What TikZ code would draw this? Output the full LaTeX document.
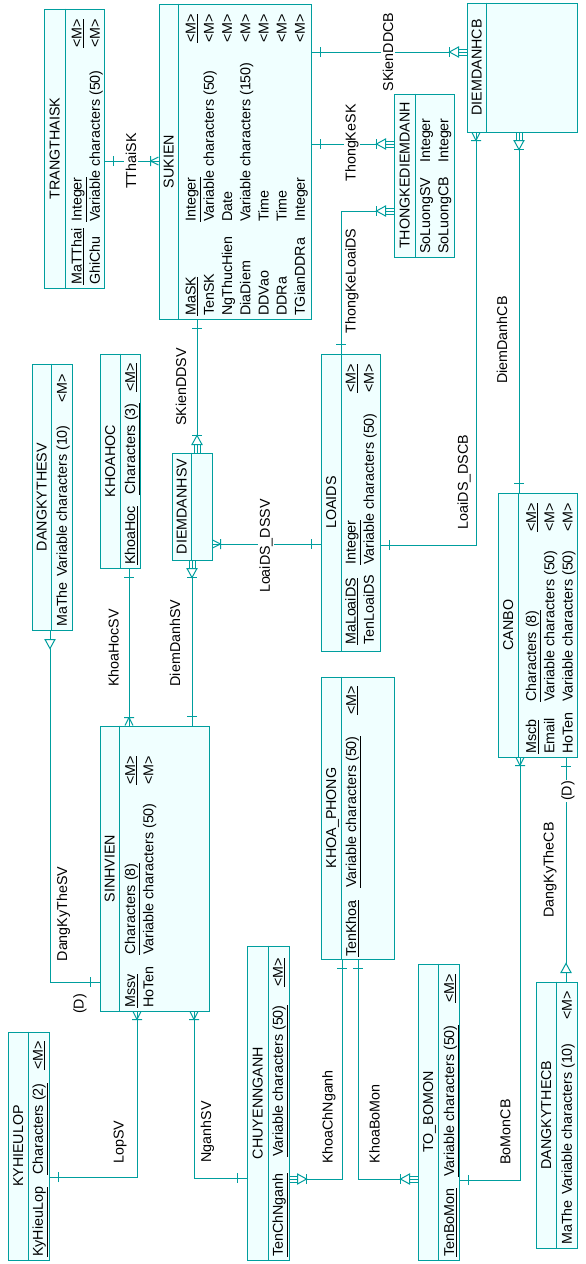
\documentclass[tikz,border=0pt]{standalone}
\usepackage{fontspec}
\setmainfont{Liberation Sans}
\usepackage{tikz}
\usetikzlibrary{calc}

\definecolor{pdline}{RGB}{0,158,158}
\definecolor{pdfill}{RGB}{240,255,255}

\tikzset{
  entity/.style={draw=pdline,fill=pdfill,line width=1pt,inner sep=0pt},
  divline/.style={draw=pdline,line width=1pt},
  link/.style={draw=pdline,line width=1pt},
  title/.style={rotate=90,inner sep=0pt,text height=10.2pt,text depth=0pt},
  attr/.style={rotate=90,anchor=north west,inner sep=0pt},
  lbl/.style={rotate=90,fill=white,inner sep=1.5pt},
  barmark/.pic={\draw[link] (-9,-5) -- (-9,5);},
  crowmark/.pic={\draw[link] (-8,0) -- (0,-4) (-8,0) -- (0,4) (-8,-5) -- (-8,5);},
  depmark/.pic={\draw[link] (0,-3) -- (-8,-3) (0,0) -- (-8,0) (0,3) -- (-8,3);
    \draw[link,fill=white] (-8,-5) -- (-8,5) -- (-17,0) -- cycle;
    \draw[link] (-17,-5) -- (-17,5);},
  trimark/.pic={\draw[link,fill=white] (-9,-5) -- (-9,5) -- (-18,0) -- cycle;}
}

\begin{document}
\begin{tikzpicture}[x=1pt,y=-1pt,font=\fontsize{14.3}{18.2}\selectfont]
  \useasboundingbox (0,0) rectangle (586,1264);

  % TRANGTHAISK
  \node[entity,minimum width=60pt,minimum height=279pt] (trangthaisk) at (74,148.5) {};
  \draw[divline] ([xshift=22pt]trangthaisk.north west) -- ([xshift=22pt]trangthaisk.south west);
  \node[title] (trangthaisk-t) at ([xshift=11pt]trangthaisk.west) {TRANGTHAISK};
  \node[attr] (trangthaisk-a) at (68.8,285) {\begin{tabular}{@{}p{63pt}@{}p{174pt}@{}l@{}}
    \underline{MaTThai} & \underline{Integer} & \underline{<M>}\\
    GhiChu & Variable characters (50) & <M>
  \end{tabular}};

  % SUKIEN
  \node[entity,minimum width=152pt,minimum height=315pt] (sukien) at (235,161.5) {};
  \draw[divline] ([xshift=20pt]sukien.north west) -- ([xshift=20pt]sukien.south west);
  \node[title] (sukien-t) at ([xshift=10pt]sukien.west) {SUKIEN};
  \node[attr] (sukien-a) at (182.8,316) {\begin{tabular}{@{}p{94pt}@{}p{179pt}@{}l@{}}
    \underline{MaSK} & \underline{Integer} & \underline{<M>}\\
    TenSK & Variable characters (50) & <M>\\
    NgThucHien & Date & <M>\\
    DiaDiem & Variable characters (150) & <M>\\
    DDVao & Time & <M>\\
    DDRa & Time & <M>\\
    TGianDDRa & Integer & <M>
  \end{tabular}};

  % THONGKEDIEMDANH
  \node[entity,minimum width=60pt,minimum height=163pt] (thongke) at (424,175.5) {};
  \draw[divline] ([xshift=22pt]thongke.north west) -- ([xshift=22pt]thongke.south west);
  \node[title] (thongke-t) at ([xshift=11pt]thongke.west) {THONGKEDIEMDANH};
  \node[attr] (thongke-a) at (417.3,254) {\begin{tabular}{@{}p{91pt}@{}l@{}}
    SoLuongSV & Integer\\
    SoLuongCB & Integer
  \end{tabular}};

  % DIEMDANHCB
  \node[entity,minimum width=110pt,minimum height=129pt] (ddcb) at (522,67.5) {};
  \draw[divline] ([xshift=20pt]ddcb.north west) -- ([xshift=20pt]ddcb.south west);
  \node[title] (ddcb-t) at ([xshift=10pt]ddcb.west) {DIEMDANHCB};

  % DANGKYTHESV
  \node[entity,minimum width=40pt,minimum height=266pt] (dkthesv) at (52,497) {};
  \draw[divline] ([xshift=20pt]dkthesv.north west) -- ([xshift=20pt]dkthesv.south west);
  \node[title] (dkthesv-t) at ([xshift=10pt]dkthesv.west) {DANGKYTHESV};
  \node[attr] (dkthesv-a) at (54,627) {\begin{tabular}{@{}p{50pt}@{}p{174pt}@{}l@{}}
    MaThe & Variable characters (10) & <M>
  \end{tabular}};

  % KHOAHOC
  \node[entity,minimum width=40pt,minimum height=214pt] (khoahoc) at (120,461) {};
  \draw[divline] ([xshift=21pt]khoahoc.north west) -- ([xshift=21pt]khoahoc.south west);
  \node[title] (khoahoc-t) at ([xshift=10.5pt]khoahoc.west) {KHOAHOC};
  \node[attr] (khoahoc-a) at (122.3,565) {\begin{tabular}{@{}p{70pt}@{}p{103pt}@{}l@{}}
    \underline{KhoaHoc} & \underline{Characters (3)} & \underline{<M>}
  \end{tabular}};

  % DIEMDANHSV
  \node[entity,minimum width=40pt,minimum height=107pt] (ddsv) at (192,506.5) {};
  \draw[divline] ([xshift=20pt]ddsv.north west) -- ([xshift=20pt]ddsv.south west);
  \node[title] (ddsv-t) at ([xshift=10pt]ddsv.west) {DIEMDANHSV};

  % LOAIDS
  \node[entity,minimum width=59pt,minimum height=297pt] (loaids) at (350.5,502.5) {};
  \draw[divline] ([xshift=21pt]loaids.north west) -- ([xshift=21pt]loaids.south west);
  \node[title] (loaids-t) at ([xshift=10.5pt]loaids.west) {LOAIDS};
  \node[attr] (loaids-a) at (342.8,645) {\begin{tabular}{@{}p{80pt}@{}p{172pt}@{}l@{}}
    \underline{MaLoaiDS} & \underline{Integer} & \underline{<M>}\\
    TenLoaiDS & Variable characters (50) & <M>
  \end{tabular}};

  % SINHVIEN
  \node[entity,minimum width=109pt,minimum height=285pt] (sinhvien) at (154.5,868.5) {};
  \draw[divline] ([xshift=20pt]sinhvien.north west) -- ([xshift=20pt]sinhvien.south west);
  \node[title] (sinhvien-t) at ([xshift=10pt]sinhvien.west) {SINHVIEN};
  \node[attr] (sinhvien-a) at (122.3,1008) {\begin{tabular}{@{}p{53pt}@{}p{170pt}@{}l@{}}
    \underline{Mssv} & \underline{Characters (8)} & \underline{<M>}\\
    HoTen & Variable characters (50) & <M>
  \end{tabular}};

  % KYHIEULOP
  \node[entity,minimum width=41pt,minimum height=228pt] (kyhieulop) at (28.5,1146) {};
  \draw[divline] ([xshift=21pt]kyhieulop.north west) -- ([xshift=21pt]kyhieulop.south west);
  \node[title] (kyhieulop-t) at ([xshift=10.5pt]kyhieulop.west) {KYHIEULOP};
  \node[attr] (kyhieulop-a) at (30,1257) {\begin{tabular}{@{}p{82pt}@{}p{105pt}@{}l@{}}
    \underline{KyHieuLop} & \underline{Characters (2)} & \underline{<M>}
  \end{tabular}};

  % CHUYENNGANH
  \node[entity,minimum width=42pt,minimum height=314pt] (chuyennganh) at (268,1103) {};
  \draw[divline] ([xshift=22pt]chuyennganh.north west) -- ([xshift=22pt]chuyennganh.south west);
  \node[title] (chuyennganh-t) at ([xshift=11pt]chuyennganh.west) {CHUYENNGANH};
  \node[attr] (chuyennganh-a) at (270,1257) {\begin{tabular}{@{}p{100pt}@{}p{170pt}@{}l@{}}
    \underline{TenChNganh} & \underline{Variable characters (50)} & \underline{<M>}
  \end{tabular}};

  % KHOA_PHONG
  \node[entity,minimum width=73pt,minimum height=282pt] (khoaphong) at (357.5,818) {};
  \draw[divline] ([xshift=21pt]khoaphong.north west) -- ([xshift=21pt]khoaphong.south west);
  \node[title] (khoaphong-t) at ([xshift=10.5pt]khoaphong.west) {KHOA\_PHONG};
  \node[attr] (khoaphong-a) at (343.3,957) {\begin{tabular}{@{}p{69pt}@{}p{173pt}@{}l@{}}
    \underline{TenKhoa} & \underline{Variable characters (50)} & \underline{<M>}
  \end{tabular}};

  % TO_BOMON
  \node[entity,minimum width=41pt,minimum height=296pt] (tobomon) at (438.5,1112) {};
  \draw[divline] ([xshift=21pt]tobomon.north west) -- ([xshift=21pt]tobomon.south west);
  \node[title] (tobomon-t) at ([xshift=10.5pt]tobomon.west) {TO\_BOMON};
  \node[attr] (tobomon-a) at (441.3,1257) {\begin{tabular}{@{}p{80pt}@{}p{174pt}@{}l@{}}
    \underline{TenBoMon} & \underline{Variable characters (50)} & \underline{<M>}
  \end{tabular}};

  % CANBO
  \node[entity,minimum width=79pt,minimum height=264pt] (canbo) at (537.5,625) {};
  \draw[divline] ([xshift=21pt]canbo.north west) -- ([xshift=21pt]canbo.south west);
  \node[title] (canbo-t) at ([xshift=10.5pt]canbo.west) {CANBO};
  \node[attr] (canbo-a) at (523.3,754) {\begin{tabular}{@{}p{52pt}@{}p{170pt}@{}l@{}}
    \underline{Mscb} & \underline{Characters (8)} & \underline{<M>}\\
    Email & Variable characters (50) & <M>\\
    HoTen & Variable characters (50) & <M>
  \end{tabular}};

  % DANGKYTHECB
  \node[entity,minimum width=41pt,minimum height=266pt] (dkthecb) at (556.5,1115) {};
  \draw[divline] ([xshift=21pt]dkthecb.north west) -- ([xshift=21pt]dkthecb.south west);
  \node[title] (dkthecb-t) at ([xshift=10.5pt]dkthecb.west) {DANGKYTHECB};
  \node[attr] (dkthecb-a) at (559,1245) {\begin{tabular}{@{}p{50pt}@{}p{175pt}@{}l@{}}
    MaThe & Variable characters (10) & <M>
  \end{tabular}};

  % links
  \draw[link] (trangthaisk.east |- 0,161) -- (sukien.west |- 0,161);
  \draw[link] (sukien.east |- 0,52) -- (ddcb.west |- 0,52);
  \draw[link] (sukien.east |- 0,144) -- (thongke.west |- 0,144);
  \draw[link] (341,0 |- loaids.north) |- (thongke.west |- 0,211);
  \draw[link] (197,0 |- sukien.south) -- (197,0 |- ddsv.north);
  \draw[link] (loaids.west |- 0,544) -- (ddsv.east |- 0,544);
  \draw[link] (loaids.east |- 0,545) -| (476,0 |- ddcb.south);
  \draw[link] (519,0 |- canbo.north) -- (519,0 |- ddcb.south);
  \draw[link] (129,0 |- khoahoc.south) -- (129,0 |- sinhvien.north);
  \draw[link] (192,0 |- ddsv.south) -- (192,0 |- sinhvien.north);
  \draw[link] (50,0 |- dkthesv.south) |- (sinhvien.west |- 0,982);
  \draw[link] (kyhieulop.east |- 0,1177) -| (137,0 |- sinhvien.south);
  \draw[link] (chuyennganh.west |- 0,1178) -| (194,0 |- sinhvien.south);
  \draw[link] (342,0 |- khoaphong.south) |- (chuyennganh.east |- 0,1179);
  \draw[link] (358,0 |- khoaphong.south) |- (tobomon.west |- 0,1179);
  \draw[link] (tobomon.east |- 0,1180) -| (520,0 |- canbo.south);
  \draw[link] (566,0 |- canbo.south) -- (566,0 |- dkthecb.north);

  % link names
  \node[lbl] (l-tthaisk) at (131,161) {TThaiSK};
  \node[lbl] (l-skienddcb) at (388,52) {SKienDDCB};
  \node[lbl] (l-thongkesk) at (352,143) {ThongKeSK};
  \node[lbl] (l-thongkeloaids) at (352,281) {ThongKeLoaiDS};
  \node[lbl] (l-skienddsv) at (181,387) {SKienDDSV};
  \node[lbl] (l-loaidsdssv) at (266,546) {LoaiDS\_DSSV};
  \node[lbl] (l-loaidsdscb) at (464,482) {LoaiDS\_DSCB};
  \node[lbl] (l-diemdanhcb) at (502,340) {DiemDanhCB};
  \node[lbl] (l-khoahocsv) at (113.5,648) {KhoaHocSV};
  \node[lbl] (l-diemdanhsv) at (175,643) {DiemDanhSV};
  \node[lbl] (l-dangkythesv) at (63.5,914) {DangKyTheSV};
  \node[lbl] (l-dsv) at (80,1004) {(D)};
  \node[lbl] (l-lopsv) at (120,1142) {LopSV};
  \node[lbl] (l-nganhsv) at (207.5,1132) {NganhSV};
  \node[lbl] (l-khoachnganh) at (329,1117) {KhoaChNganh};
  \node[lbl] (l-khoabomon) at (374.5,1124) {KhoaBoMon};
  \node[lbl] (l-bomoncb) at (505.5,1132) {BoMonCB};
  \node[lbl] (l-dangkythecb) at (550,870) {DangKyTheCB};
  \node[lbl] (l-dcb) at (568,791) {(D)};

  % cardinality marks
  \pic[rotate=180] at (trangthaisk.east |- 0,161) {barmark};
  \pic at (sukien.west |- 0,161) {crowmark};
  \pic[rotate=180] at (sukien.east |- 0,52) {barmark};
  \pic at (ddcb.west |- 0,52) {depmark};
  \pic[rotate=180] at (sukien.east |- 0,144) {barmark};
  \pic at (thongke.west |- 0,144) {depmark};
  \pic[rotate=-90] at (341,0 |- loaids.north) {barmark};
  \pic at (thongke.west |- 0,211) {depmark};
  \pic[rotate=90] at (197,0 |- sukien.south) {barmark};
  \pic[rotate=-90] at (197,0 |- ddsv.north) {depmark};
  \pic at (loaids.west |- 0,544) {barmark};
  \pic[rotate=180] at (ddsv.east |- 0,544) {crowmark};
  \pic[rotate=180] at (loaids.east |- 0,545) {barmark};
  \pic[rotate=90] at (476,0 |- ddcb.south) {crowmark};
  \pic[rotate=-90] at (519,0 |- canbo.north) {barmark};
  \pic[rotate=90] at (519,0 |- ddcb.south) {depmark};
  \pic[rotate=90] at (129,0 |- khoahoc.south) {barmark};
  \pic[rotate=-90] at (129,0 |- sinhvien.north) {crowmark};
  \pic[rotate=90] at (192,0 |- ddsv.south) {depmark};
  \pic[rotate=-90] at (192,0 |- sinhvien.north) {barmark};
  \pic[rotate=90] at (50,0 |- dkthesv.south) {trimark};
  \pic at (sinhvien.west |- 0,982) {barmark};
  \pic[rotate=180] at (kyhieulop.east |- 0,1177) {barmark};
  \pic[rotate=90] at (137,0 |- sinhvien.south) {crowmark};
  \pic at (chuyennganh.west |- 0,1178) {barmark};
  \pic[rotate=90] at (194,0 |- sinhvien.south) {crowmark};
  \pic[rotate=90] at (342,0 |- khoaphong.south) {barmark};
  \pic[rotate=180] at (chuyennganh.east |- 0,1179) {depmark};
  \pic[rotate=90] at (358,0 |- khoaphong.south) {barmark};
  \pic at (tobomon.west |- 0,1179) {depmark};
  \pic[rotate=180] at (tobomon.east |- 0,1180) {barmark};
  \pic[rotate=90] at (520,0 |- canbo.south) {crowmark};
  \pic[rotate=90] at (566,0 |- canbo.south) {barmark};
  \pic[rotate=-90] at (566,0 |- dkthecb.north) {trimark};
\end{tikzpicture}
\end{document}
